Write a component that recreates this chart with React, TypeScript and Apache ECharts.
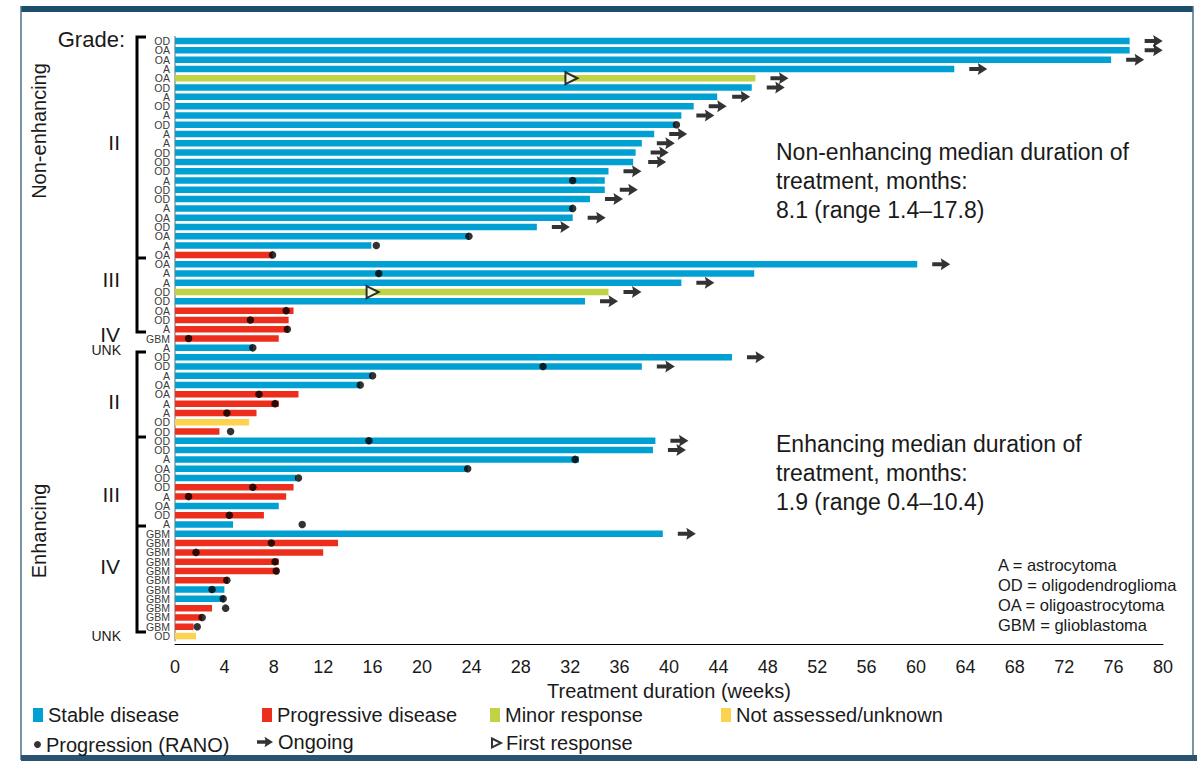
import React, { useEffect, useRef } from 'react';
import * as echarts from 'echarts';

// ---------- DATA ----------
const histology = [
  'OD', 'OA', 'OA', 'A', 'OA', 'OD', 'A', 'OD', 'A', 'OD', 'A', 'A', 'OD', 'OD', 'OD', 'A', 'OD', 'OD', 'A', 'OA', 'OD', 'OA', 'A', 'OA',
  'OA', 'A', 'A', 'OD', 'OD',
  'OA', 'OD', 'A', 'GBM',
  'A',
  'OD', 'OD', 'A', 'OA', 'OA', 'A', 'A', 'OD', 'OD',
  'OD', 'OD', 'A', 'OA', 'OD', 'OD', 'A', 'OA', 'OD', 'A',
  'GBM', 'GBM', 'GBM', 'GBM', 'GBM', 'GBM', 'GBM', 'GBM', 'GBM', 'GBM', 'GBM',
  'OD',
];

const durationWeeks = [
  77.3, 77.3, 75.8, 63.1, 47.0, 46.7, 43.9, 42.0, 41.0, 40.5, 38.8, 37.8, 37.3, 37.1, 35.1, 34.8, 34.8, 33.6, 32.2, 32.2, 29.3, 23.8, 15.9, 7.9,
  60.1, 46.9, 41.0, 35.1, 33.2,
  9.6, 9.2, 9.2, 8.4,
  6.3,
  45.1, 37.8, 15.9, 15.0, 10.0, 8.4, 6.6, 6.0, 3.6,
  38.9, 38.7, 32.7, 23.7, 9.8, 9.6, 9.0, 8.4, 7.2, 4.7,
  39.5, 13.2, 12.0, 8.4, 8.4, 4.3, 4.0, 4.0, 3.0, 2.2, 1.5,
  1.7,
];

// SD = stable disease, PD = progressive disease, MR = minor response, NA = not assessed/unknown
const bestResponse = [
  'SD', 'SD', 'SD', 'SD', 'MR', 'SD', 'SD', 'SD', 'SD', 'SD', 'SD', 'SD', 'SD', 'SD', 'SD', 'SD', 'SD', 'SD', 'SD', 'SD', 'SD', 'SD', 'SD', 'PD',
  'SD', 'SD', 'SD', 'MR', 'SD',
  'PD', 'PD', 'PD', 'PD',
  'SD',
  'SD', 'SD', 'SD', 'SD', 'PD', 'PD', 'PD', 'NA', 'PD',
  'SD', 'SD', 'SD', 'SD', 'SD', 'PD', 'PD', 'SD', 'PD', 'SD',
  'SD', 'PD', 'PD', 'PD', 'PD', 'PD', 'SD', 'SD', 'PD', 'PD', 'PD',
  'NA',
];

const progressionWeek = [
  null, null, null, null, null, null, null, null, null, 40.6, null, null, null, null, null, 32.2, null, null, 32.2, null, null, 23.8, 16.3, 7.9,
  null, 16.5, null, null, null,
  9.0, 6.1, 9.1, 1.1,
  6.3,
  null, 29.8, 16.0, 15.0, 6.8, 8.1, 4.2, null, 4.5,
  15.7, null, 32.4, 23.7, 10.0, 6.3, 1.1, null, 4.4, 10.3,
  null, 7.8, 1.7, 8.1, 8.2, 4.2, 3.0, 3.9, 4.1, 2.2, 1.8,
  null,
];

const ongoing = [
  1, 1, 1, 1, 1, 1, 1, 1, 1, 0, 1, 1, 1, 1, 1, 0, 1, 1, 0, 1, 1, 0, 0, 0,
  1, 0, 1, 1, 1,
  0, 0, 0, 0,
  0,
  1, 1, 0, 0, 0, 0, 0, 0, 0,
  1, 1, 0, 0, 0, 0, 0, 0, 0, 0,
  1, 0, 0, 0, 0, 0, 0, 0, 0, 0, 0,
  0,
];

const firstResponseWeek = [
  null, null, null, null, 32.1, null, null, null, null, null, null, null, null, null, null, null, null, null, null, null, null, null, null, null,
  null, null, null, 16.0, null,
  null, null, null, null,
  null,
  null, null, null, null, null, null, null, null, null,
  null, null, null, null, null, null, null, null, null, null,
  null, null, null, null, null, null, null, null, null, null, null,
  null,
];

const responseNames = ['Stable disease', 'Progressive disease', 'Minor response', 'Not assessed/unknown'];
const responseKeys = ['SD', 'PD', 'MR', 'NA'];
const xTickMin = 0;
const xTickMax = 80;
const xTickStep = 4;

const gradeLabels = [
  { text: 'II', y: 142 }, { text: 'III', y: 279 }, { text: 'IV', y: 334 },
  { text: 'II', y: 401 }, { text: 'III', y: 494 }, { text: 'IV', y: 566 },
];
const unkLabels = [{ text: 'UNK', y: 350 }, { text: 'UNK', y: 636 }];
const abbreviations = 'A = astrocytoma\nOD = oligodendroglioma\nOA = oligoastrocytoma\nGBM = glioblastoma';
const nonEnhText = 'Non-enhancing median duration of\ntreatment, months:\n8.1 (range 1.4\u201317.8)';
const enhText = 'Enhancing median duration of\ntreatment, months:\n1.9 (range 0.4\u201310.4)';

// ---------- STYLE ----------
const FONT = '"Liberation Sans", Arial, Helvetica, sans-serif';
const COLORS: Record<string, string> = { SD: '#00A0D2', PD: '#EE2E1C', MR: '#BFD345', NA: '#FCD24F' };
const TEXT = '#1a1a1a';
const ARROW = 'path://M0,4L9.5,4L8.5,0L18,6L8.5,12L9.5,8L0,8Z';
const TRI = 'path://M0,0L12,6L0,12Z';

export default function App() {
  const ref = useRef<HTMLDivElement>(null);
  useEffect(() => {
    if (!ref.current) return;
    const chart = echarts.init(ref.current, null, { renderer: 'svg' });
    const rowIds = histology.map((_, i) => 'r' + i);

    const barSeries = responseKeys.map((k, si) => ({
      type: 'bar',
      name: responseNames[si],
      data: durationWeeks.map((d, i) => (bestResponse[i] === k ? d : null)),
      barWidth: 6.5,
      barGap: '-100%',
      itemStyle: { color: COLORS[k] },
      z: 2,
    }));

    const progData: any[] = [];
    progressionWeek.forEach((p, i) => { if (p !== null) progData.push([p, i]); });
    const ongoingData: any[] = [];
    ongoing.forEach((o, i) => { if (o) ongoingData.push([durationWeeks[i], i]); });
    const firstData: any[] = [];
    firstResponseWeek.forEach((f, i) => { if (f !== null) firstData.push([f, i]); });

    const graphic: any[] = [
      // frame
      { type: 'rect', shape: { x: 21, y: 6, width: 1172, height: 6 }, style: { fill: '#1E4D6B' }, silent: true },
      { type: 'line', shape: { x1: 21, y1: 6, x2: 21, y2: 760 }, style: { stroke: '#4E7189', lineWidth: 1.5 }, silent: true },
      { type: 'line', shape: { x1: 1193, y1: 6, x2: 1193, y2: 760 }, style: { stroke: '#4E7189', lineWidth: 1.5 }, silent: true },
      { type: 'rect', shape: { x: 21, y: 755, width: 1176, height: 6 }, style: { fill: '#2A5372' }, silent: true },
      // left labels
      { type: 'text', x: 125, y: 39, style: { text: 'Grade:', font: `22px ${FONT}`, fill: TEXT, align: 'right', verticalAlign: 'middle' } },
      { type: 'text', x: 39, y: 131, rotation: Math.PI / 2, style: { text: 'Non-enhancing', font: `20px ${FONT}`, fill: TEXT, align: 'center', verticalAlign: 'middle' } },
      { type: 'text', x: 39, y: 531, rotation: Math.PI / 2, style: { text: 'Enhancing', font: `20px ${FONT}`, fill: TEXT, align: 'center', verticalAlign: 'middle' } },
      ...gradeLabels.map((g) => ({ type: 'text', x: 120, y: g.y, style: { text: g.text, font: `21px ${FONT}`, fill: TEXT, align: 'right', verticalAlign: 'middle' } })),
      ...unkLabels.map((g) => ({ type: 'text', x: 121, y: g.y, style: { text: g.text, font: `14px ${FONT}`, fill: TEXT, align: 'right', verticalAlign: 'middle' } })),
      // brackets
      { type: 'polyline', shape: { points: [[146, 37], [137, 37], [137, 332], [146, 332]] }, style: { stroke: '#000', lineWidth: 3, fill: null }, silent: true },
      { type: 'line', shape: { x1: 137, y1: 258, x2: 146, y2: 258 }, style: { stroke: '#000', lineWidth: 3 }, silent: true },
      { type: 'polyline', shape: { points: [[146, 352], [137, 352], [137, 632], [146, 632]] }, style: { stroke: '#000', lineWidth: 3, fill: null }, silent: true },
      { type: 'line', shape: { x1: 137, y1: 437, x2: 146, y2: 437 }, style: { stroke: '#000', lineWidth: 3 }, silent: true },
      { type: 'line', shape: { x1: 137, y1: 526, x2: 146, y2: 526 }, style: { stroke: '#000', lineWidth: 3 }, silent: true },
      // annotations
      { type: 'text', x: 776, y: 137.5, style: { text: nonEnhText, font: `23px ${FONT}`, lineHeight: 29, fill: TEXT, align: 'left', verticalAlign: 'top' } },
      { type: 'text', x: 776, y: 429.5, style: { text: enhText, font: `23px ${FONT}`, lineHeight: 29, fill: TEXT, align: 'left', verticalAlign: 'top' } },
      { type: 'text', x: 998, y: 555, style: { text: abbreviations, font: `16.5px ${FONT}`, lineHeight: 20, fill: TEXT, align: 'left', verticalAlign: 'top' } },
    ];

    const legendBase = { padding: 0, orient: 'horizontal', textStyle: { fontSize: 20, fontFamily: FONT, color: TEXT }, selectedMode: false };
    const legend = [
      { ...legendBase, data: [{ name: 'Stable disease', icon: 'rect' }], left: 33, top: 705, itemWidth: 10, itemHeight: 14 },
      { ...legendBase, data: [{ name: 'Progressive disease', icon: 'rect' }], left: 262, top: 705, itemWidth: 10, itemHeight: 14 },
      { ...legendBase, data: [{ name: 'Minor response', icon: 'rect' }], left: 490, top: 705, itemWidth: 10, itemHeight: 14 },
      { ...legendBase, data: [{ name: 'Not assessed/unknown', icon: 'rect' }], left: 721, top: 705, itemWidth: 10, itemHeight: 14 },
      { ...legendBase, data: [{ name: 'Progression (RANO)', icon: 'circle' }], left: 34, top: 734.5, itemWidth: 7, itemHeight: 7 },
      { ...legendBase, data: [{ name: 'Ongoing', icon: ARROW }], left: 257, top: 732, itemWidth: 16, itemHeight: 12 },
      { ...legendBase, data: [{ name: 'First response', icon: TRI }], left: 491, top: 733, itemWidth: 9, itemHeight: 10 },
    ];

    chart.setOption({
      animation: false,
      backgroundColor: '#ffffff',
      grid: { left: 175, right: 34, top: 36.4, height: 604.3, containLabel: false },
      xAxis: {
        type: 'value', min: xTickMin, max: xTickMax, interval: xTickStep, offset: 4,
        axisLine: { show: true, lineStyle: { color: '#000', width: 1 } },
        axisTick: { show: false },
        splitLine: { show: false },
        axisLabel: { fontSize: 18, fontFamily: FONT, color: TEXT, margin: 13 },
        name: 'Treatment duration (weeks)', nameLocation: 'middle', nameGap: 36,
        nameTextStyle: { fontSize: 20, fontFamily: FONT, color: TEXT },
      },
      yAxis: {
        type: 'category', data: rowIds, inverse: true,
        axisLine: { show: true, lineStyle: { color: '#999', width: 1.5 } },
        axisTick: { show: false },
        splitLine: { show: false },
        axisLabel: {
          interval: 0, margin: 5, fontSize: 10.5, lineHeight: 9, fontFamily: FONT, color: '#3a3a3a',
          formatter: (_v: string, idx: number) => histology[idx],
        },
      },
      legend,
      graphic,
      series: [
        ...barSeries,
        {
          type: 'scatter', name: 'Progression (RANO)', data: progData, symbol: 'circle', symbolSize: 7.5,
          itemStyle: { color: '#000' }, z: 5,
        },
        {
          type: 'scatter', name: 'Ongoing', data: ongoingData, symbol: ARROW, symbolSize: [18, 12], symbolOffset: [24, 0],
          itemStyle: { color: '#000' }, z: 5,
        },
        {
          type: 'scatter', name: 'First response', data: firstData, symbol: TRI, symbolSize: [12, 12],
          itemStyle: { color: '#fff', borderColor: '#000', borderWidth: 2 }, z: 6,
        },
      ],
    } as any);
    return () => chart.dispose();
  }, []);
  return <div ref={ref} style={{ position: 'fixed', left: 0, top: 0, width: 1197, height: 761 }} />;
}
